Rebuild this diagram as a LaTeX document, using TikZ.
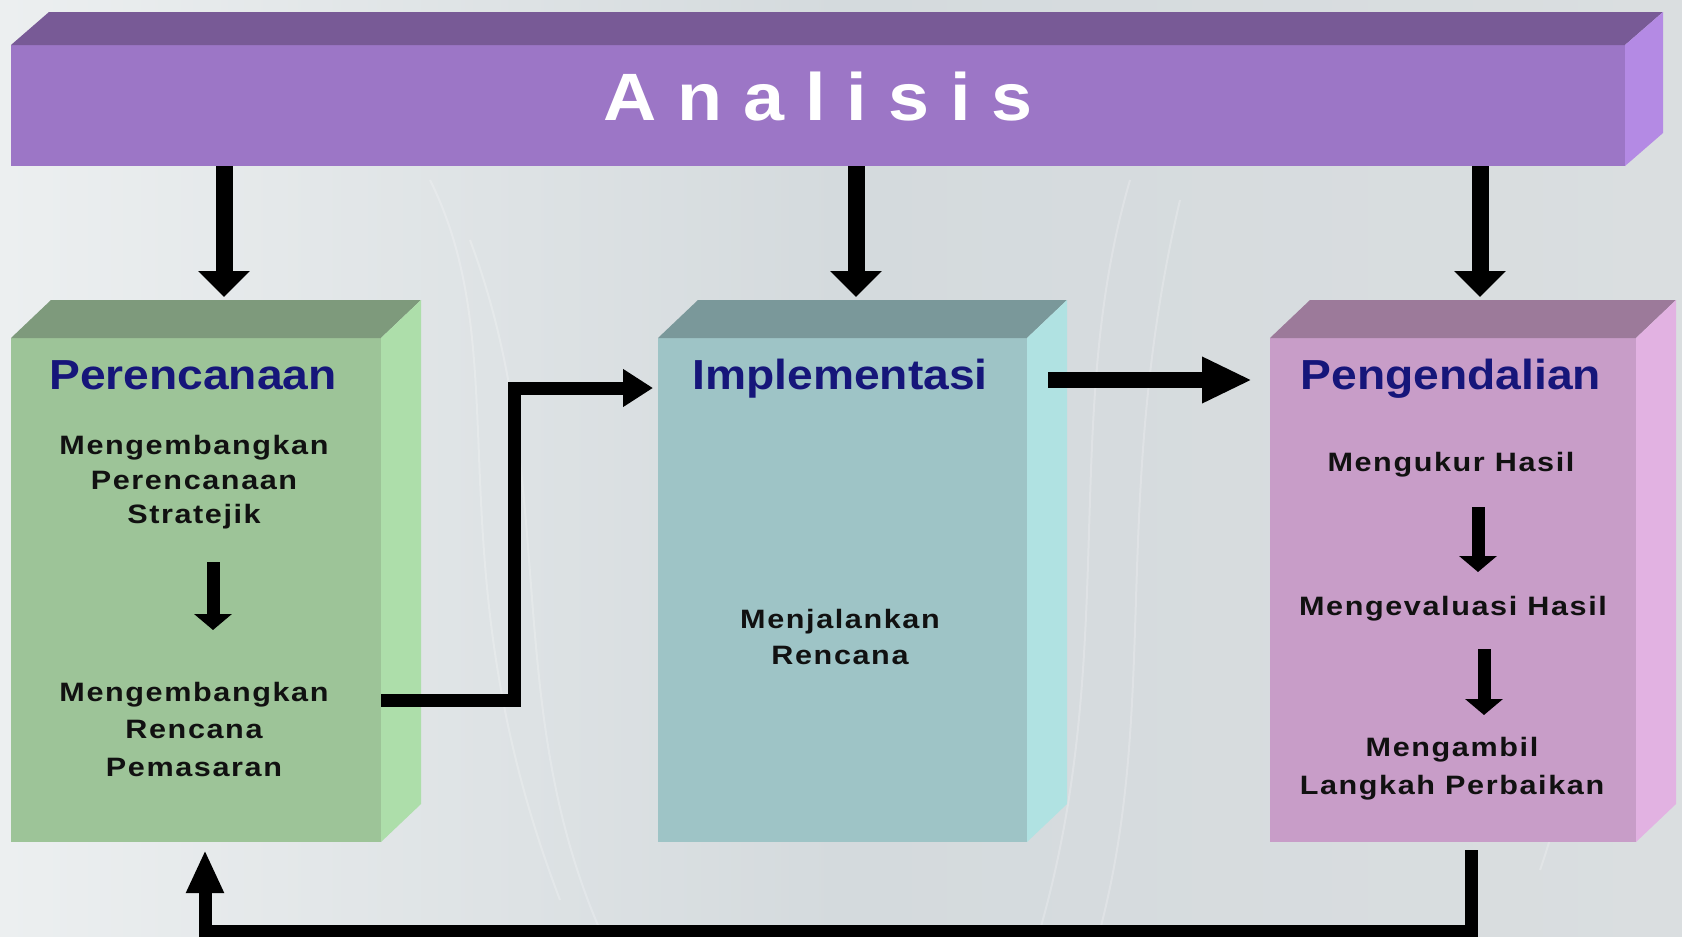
\documentclass[tikz,border=0pt]{standalone}
\usepackage{fontspec}
\setmainfont{Liberation Sans}
\newfontfamily\titlefont[FakeStretch=1.1]{Liberation Sans}
\newfontfamily\bodyfont[FakeStretch=1.15,LetterSpace=6]{Liberation Sans}
\newfontfamily\anafont[FakeStretch=1.1]{Liberation Sans}
\usetikzlibrary{arrows.meta,calc}
\definecolor{perF}{RGB}{157,196,152}
\definecolor{perT}{RGB}{126,154,124}
\definecolor{perR}{RGB}{173,222,170}
\definecolor{impF}{RGB}{158,196,198}
\definecolor{impT}{RGB}{122,152,154}
\definecolor{impR}{RGB}{176,226,226}
\definecolor{penF}{RGB}{200,157,200}
\definecolor{penT}{RGB}{156,122,154}
\definecolor{penR}{RGB}{226,178,226}
\definecolor{anaF}{RGB}{156,118,198}
\definecolor{anaT}{RGB}{120,90,150}
\definecolor{anaR}{RGB}{180,138,228}
\definecolor{navy}{RGB}{22,22,122}
\definecolor{ink}{RGB}{17,17,17}
\definecolor{bgA}{RGB}{236,239,240}
\definecolor{bgB}{RGB}{212,218,221}
\definecolor{bgC}{RGB}{218,222,224}
\newcommand\lsp{\kern 10.5pt}
\tikzset{
  face/.style={rectangle, inner sep=0pt, outer sep=0pt, draw=none},
  ttl/.style={font=\titlefont\bfseries\fontsize{21}{25}\selectfont, text=navy, anchor=base, inner sep=0pt},
  body/.style={font=\bodyfont\bfseries\fontsize{13.3}{16}\selectfont, text=ink, anchor=base, inner sep=0pt},
  topar/.style={line width=8.5pt, draw=black, -{Triangle[width=25pt,length=13pt]}},
  midar/.style={line width=6.5pt, draw=black, -{Triangle[width=18pt,length=15pt]}},
  widear/.style={line width=8pt, draw=black, -{Triangle[width=21.5pt,length=25pt]}},
  inar/.style={line width=6.5pt, draw=black, -{Triangle[width=18.5pt,length=8pt]}},
  loopar/.style={line width=6.5pt, draw=black, -{Triangle[width=17.5pt,length=21.5pt]}},
  streak/.style={white, opacity=0.22, line width=1pt},
}
\begin{document}
\begin{tikzpicture}[x=0.5pt,y=-0.5pt]
\useasboundingbox (0,0) rectangle (1682,937);
% background
\shade[left color=bgA, right color=bgC, middle color=bgB] (0,0) rectangle (1682,937);
\draw[streak] (430,180) .. controls (520,360) and (430,560) .. (560,900);
\draw[streak] (470,240) .. controls (560,480) and (500,700) .. (600,930);
\draw[streak] (1130,180) .. controls (1060,420) and (1120,650) .. (1040,930);
\draw[streak] (1180,200) .. controls (1110,500) and (1160,700) .. (1100,930);
\draw[streak] (1540,870) .. controls (1600,700) and (1580,500) .. (1660,300);

% Analisis bar
\node[face, fill=anaF, minimum width=807pt, minimum height=60.5pt] (ana) at (818,105.5) {};
\fill[anaT] (ana.north west) -- ++(38,-33) -- ($(ana.north east)+(38,-33)$) -- (ana.north east) -- cycle;
\fill[anaR] (ana.north east) -- ++(38,-33) -- ($(ana.south east)+(38,-33)$) -- (ana.south east) -- cycle;
\node[font=\anafont\bfseries\fontsize{33.5}{40}\selectfont, text=white, anchor=base, inner sep=0pt] (anat) at (818,120) {A\lsp n\lsp a\lsp l\lsp i\lsp s\lsp i\lsp s};

% boxes
\node[face, fill=perF, minimum width=185pt, minimum height=252pt] (per) at (196,590) {};
\fill[perT] (per.north west) -- ++(40,-38) -- ($(per.north east)+(40,-38)$) -- (per.north east) -- cycle;
\fill[perR] (per.north east) -- ++(40,-38) -- ($(per.south east)+(40,-38)$) -- (per.south east) -- cycle;

\node[face, fill=impF, minimum width=184.5pt, minimum height=252pt] (imp) at (842.5,590) {};
\fill[impT] (imp.north west) -- ++(40,-38) -- ($(imp.north east)+(40,-38)$) -- (imp.north east) -- cycle;
\fill[impR] (imp.north east) -- ++(40,-38) -- ($(imp.south east)+(40,-38)$) -- (imp.south east) -- cycle;

\node[face, fill=penF, minimum width=183pt, minimum height=252pt] (pen) at (1453,590) {};
\fill[penT] (pen.north west) -- ++(40,-38) -- ($(pen.north east)+(40,-38)$) -- (pen.north east) -- cycle;
\fill[penR] (pen.north east) -- ++(40,-38) -- ($(pen.south east)+(40,-38)$) -- (pen.south east) -- cycle;

% texts
\node[ttl] (pert) at (193,389) {Perencanaan};
\node[body] (p1a) at (194,454) {Mengembangkan};
\node[body] (p1b) at (194,489) {Perencanaan};
\node[body] (p1c) at (194,523) {Stratejik};
\node[body] (p2a) at (194,701) {Mengembangkan};
\node[body] (p2b) at (194,738) {Rencana};
\node[body] (p2c) at (194,776) {Pemasaran};

\node[ttl] (impt) at (840,389) {Implementasi};
\node[body] (i1a) at (840,628) {Menjalankan};
\node[body] (i1b) at (840,664) {Rencana};

\node[ttl] (pent) at (1451,389) {Pengendalian};
\node[body] (e1) at (1451,471) {Mengukur Hasil};
\node[body] (e2) at (1453,615) {Mengevaluasi Hasil};
\node[body] (e3a) at (1452,756) {Mengambil};
\node[body] (e3b) at (1452,794) {Langkah Perbaikan};

% inner arrows
\coordinate (pa1) at (213,562);
\coordinate (pa2) at (213,630);
\draw[inar] (pa1) -- (pa2);
\coordinate (ea1) at (1478,507);
\coordinate (ea2) at (1478,572);
\draw[inar] (ea1) -- (ea2);
\coordinate (eb1) at (1484,649);
\coordinate (eb2) at (1484,715);
\draw[inar] (eb1) -- (eb2);

% arrows from Analisis
\coordinate (a1) at (224,297);
\coordinate (a2) at (856,297);
\coordinate (a3) at (1480,297);
\draw[topar] (ana.south -| a1) -- (a1);
\draw[topar] (ana.south -| a2) -- (a2);
\draw[topar] (ana.south -| a3) -- (a3);

% Perencanaan -> Implementasi
\coordinate (c1) at (514,700);
\coordinate (c2) at (514,388);
\coordinate (c3) at (653,388);
\draw[midar] (per.east |- c1) -- (c1) -- (c2) -- (c3);

% Implementasi -> Pengendalian
\coordinate (d1) at (1048,380);
\coordinate (d2) at (1252,380);
\draw[widear] (d1) -- (d2);

% Pengendalian -> Perencanaan (feedback)
\coordinate (b1) at (1471,850);
\coordinate (br) at (1471,931);
\coordinate (bl) at (205,931);
\coordinate (b2) at (205,850);
\draw[loopar] (b1) -- (br) -- (bl) -- (b2);
\end{tikzpicture}
\end{document}
